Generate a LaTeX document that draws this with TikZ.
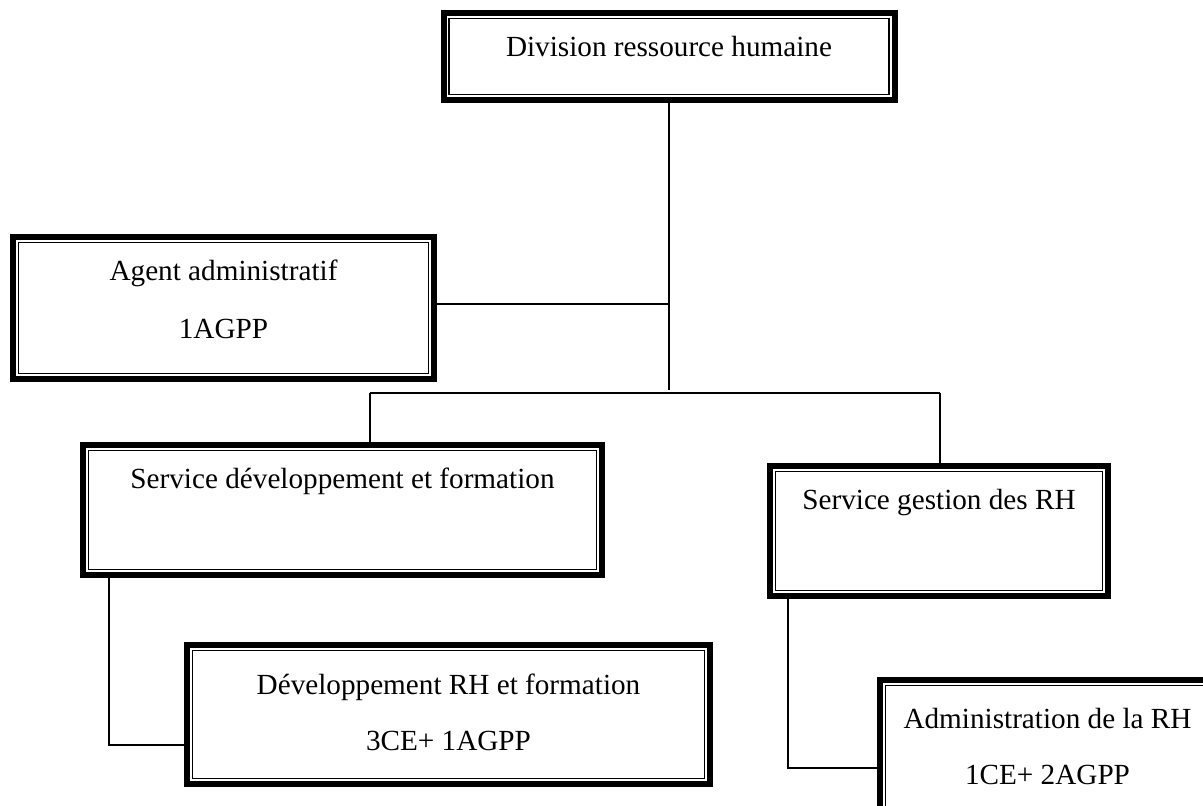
\documentclass[tikz,border=0pt]{standalone}
\usepackage{fontspec}
\setmainfont{Liberation Serif}
\usetikzlibrary{calc}
\tikzset{
  frame/.style={draw, line width=3pt, inner sep=0pt, outer sep=0pt, fill=white,
    path picture={\draw[line width=0.75pt]
      ([shift={(2.85pt,-2.85pt)}]path picture bounding box.north west) rectangle
      ([shift={(-2.85pt,2.85pt)}]path picture bounding box.south east);}},
  lbl/.style={anchor=base, inner sep=0pt, font=\fontsize{14.6}{17}\selectfont},
  link/.style={line width=0.65pt},
}
\begin{document}
\begin{tikzpicture}[x=0.5pt,y=-0.5pt]
\useasboundingbox (0,0) rectangle (1203,805);
\clip (0,0) rectangle (1203,805);
\fill[white] (0,0) rectangle (1203,805);
% boxes
\node[frame, minimum width=225.5pt, minimum height=43.5pt] (top) at (669,56.5) {};
\node[frame, minimum width=210.5pt, minimum height=71pt] (agent) at (223.5,308) {};
\node[frame, minimum width=259.5pt, minimum height=65pt] (sdev) at (342.5,510) {};
\node[frame, minimum width=169pt, minimum height=65pt] (sges) at (939,531) {};
\node[frame, minimum width=261.5pt, minimum height=69.5pt] (devrh) at (448.5,714.5) {};
\node[frame, minimum width=167.5pt, minimum height=69.5pt] (admin) at (1047.5,749.5) {};
% texts
\node[lbl] (topT) at (669,56) {Division ressource humaine};
\node[lbl] (agentT1) at (223.5,280) {Agent administratif};
\node[lbl] (agentT2) at (223.5,338) {1AGPP};
\node[lbl] (sdevT) at (342.5,488) {Service développement et formation};
\node[lbl] (sgesT) at (939,509) {Service gestion des RH};
\node[lbl] (devrhT1) at (448.5,694) {Développement RH et formation};
\node[lbl] (devrhT2) at (448.5,750) {3CE+ 1AGPP};
\node[lbl] (adminT1) at (1047.5,728) {Administration de la RH};
\node[lbl] (adminT2) at (1047.5,784) {1CE+ 2AGPP};
% connector points
\coordinate (jv) at (669,390);
\coordinate (ja) at (669,304);
\coordinate (hl) at (370,393);
\coordinate (hr) at (940,393);
\coordinate (dl) at (109,745);
\coordinate (gl) at (788,768);
% connectors
\draw[link] (top.south) -- (jv);
\draw[link] (agent.east |- ja) -- (ja);
\draw[link] (hl) -- (hr);
\draw[link] (hl) -- (hl |- sdev.north);
\draw[link] (hr) -- (hr |- sges.north);
\draw[link] (dl |- sdev.south) -- (dl) -- (devrh.west |- dl);
\draw[link] (gl |- sges.south) -- (gl) -- (admin.west |- gl);
\end{tikzpicture}
\end{document}
